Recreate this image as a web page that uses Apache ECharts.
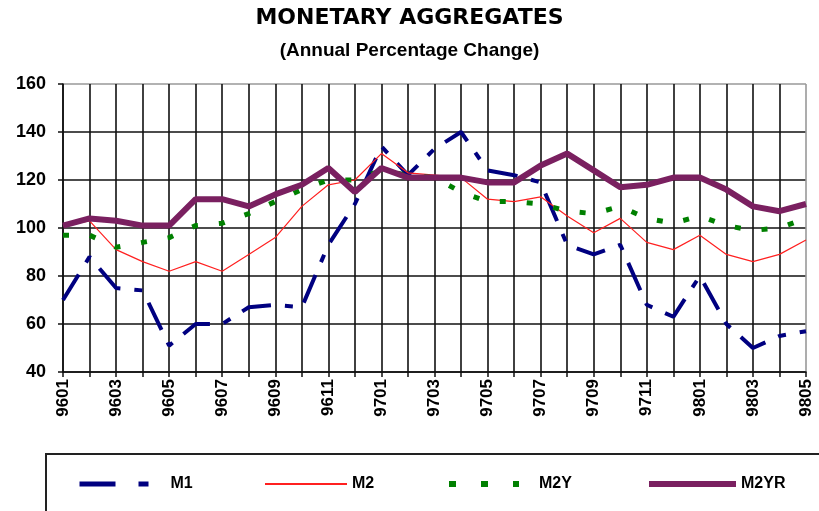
<!DOCTYPE html>
<html>
<head>
<meta charset="utf-8">
<script src="https://cdn.jsdelivr.net/npm/echarts@6/dist/echarts.min.js"></script>
<style>
  html, body { margin: 0; padding: 0; background: #fff; }
  #chart { width: 819px; height: 511px; }
</style>
</head>
<body>
<div id="chart"></div>
<script>
// months, yymm
const months = ['9601', '9602', '9603', '9604', '9605', '9606', '9607', '9608', '9609', '9610', '9611', '9612',
  '9701', '9702', '9703', '9704', '9705', '9706', '9707', '9708', '9709', '9710', '9711', '9712',
  '9801', '9802', '9803', '9804', '9805']
// annual % change
const m1 = [70, 88, 75, 74, 51, 60, 60, 67, 68, 67, 93, 110, 134, 122, 133, 140, 124, 122, 119, 93, 89, 93, 68, 63, 80, 60, 50, 55, 57]
const m2 = [101, 103, 91, 86, 82, 86, 82, 89, 96, 109, 118, 120, 131, 123, 122, 121, 112, 111, 113, 105, 98, 104, 94, 91, 97, 89, 86, 89, 95]
const m2y = [97, 97, 92, 94, 96, 101, 102, 106, 111, 116, 120, 120, 124, 122, 121, 115, 111, 111, 110, 107, 106, 109, 104, 102, 105, 101, 99, 100, 104]
const m2yr = [101, 104, 103, 101, 101, 112, 112, 109, 114, 118, 125, 115, 125, 121, 121, 121, 119, 119, 126, 131, 124, 117, 118, 121, 121, 116, 109, 107, 110]

const font = 'Liberation Sans'
// last grid line (plot border) is grey
const vColors = months.map((m, i) => i === months.length - 1 ? '#999' : '#111')
const hColors = ['#111', '#111', '#111', '#111', '#111', '#111', '#999']

const legendText = {
  fontFamily: font,
  fontWeight: 'bold',
  fontSize: 16,
  color: '#000'
}
// common bits for the 4 single-item legends
const legendBase = {
  top: 476,
  itemHeight: 14,
  padding: 0,
  itemStyle: { opacity: 0 }
}

const chart = echarts.init(document.getElementById('chart'))
chart.setOption({
  animation: false,
  title: {
    text: 'MONETARY AGGREGATES',
    subtext: '(Annual Percentage Change)',
    left: 'center',
    top: 2,
    itemGap: 12,
    textStyle: { fontFamily: 'DejaVu Sans', fontWeight: 'bold', fontSize: 22, color: '#000' },
    subtextStyle: { fontFamily: font, fontWeight: 'bold', fontSize: 19, color: '#000' }
  },
  grid: { left: 63, right: 13, top: 84, bottom: 139 },
  xAxis: {
    type: 'category',
    data: months,
    boundaryGap: false,
    axisLine: { lineStyle: { color: '#111', width: 1.5 } },
    axisTick: { interval: 0, length: 5, lineStyle: { color: '#111', width: 1.5 } },
    axisLabel: {
      interval: 1,
      rotate: 90,
      margin: 7,
      fontFamily: font,
      fontWeight: 'bold',
      fontSize: 17,
      color: '#000'
    },
    splitLine: { show: true, interval: 0, lineStyle: { color: vColors, width: 1.6 } }
  },
  yAxis: {
    type: 'value',
    min: 40,
    max: 160,
    interval: 20,
    axisLine: { show: true, lineStyle: { color: '#111', width: 1.5 } },
    axisTick: { show: true, length: 5, lineStyle: { color: '#111', width: 1.5 } },
    axisLabel: {
      margin: 17,
      fontFamily: font,
      fontWeight: 'bold',
      fontSize: 18,
      color: '#000'
    },
    splitLine: { show: true, lineStyle: { color: hColors, width: 1.6 } }
  },
  graphic: [{
    type: 'rect',
    shape: { x: 46, y: 454, width: 800, height: 90 },
    style: { fill: 'none', stroke: '#222', lineWidth: 2 },
    silent: true
  }],
  legend: [
    Object.assign({}, legendBase, {
      data: ['M1'], left: 77, itemWidth: 70,
      lineStyle: { type: [36, 23, 10, 100], width: 5 },
      textStyle: Object.assign({ padding: [0, 0, 0, 16] }, legendText)
    }),
    Object.assign({}, legendBase, {
      data: ['M2'], left: 264, itemWidth: 82,
      lineStyle: { width: 2 },
      textStyle: legendText
    }),
    Object.assign({}, legendBase, {
      data: ['M2Y'], left: 446, itemWidth: 70,
      lineStyle: { type: [7, 25], width: 6 },
      textStyle: Object.assign({ padding: [0, 0, 0, 15] }, legendText)
    }),
    Object.assign({}, legendBase, {
      data: ['M2YR'], left: 646, itemWidth: 87,
      lineStyle: { width: 6 },
      textStyle: legendText
    })
  ],
  series: [
    {
      name: 'M1', type: 'line', data: m1, symbol: 'none',
      lineStyle: { color: '#000080', width: 4, type: [30, 14, 8, 14] },
      itemStyle: { color: '#000080' }
    },
    {
      name: 'M2', type: 'line', data: m2, symbol: 'none',
      lineStyle: { color: '#ff2020', width: 1.2 },
      itemStyle: { color: '#ff2020' }
    },
    {
      name: 'M2Y', type: 'line', data: m2y, symbol: 'none',
      lineStyle: { color: '#008000', width: 5, type: [6, 21] },
      itemStyle: { color: '#008000' }
    },
    {
      name: 'M2YR', type: 'line', data: m2yr, symbol: 'none',
      lineStyle: { color: '#7a2060', width: 6 },
      itemStyle: { color: '#7a2060' }
    }
  ]
})
</script>
</body>
</html>
